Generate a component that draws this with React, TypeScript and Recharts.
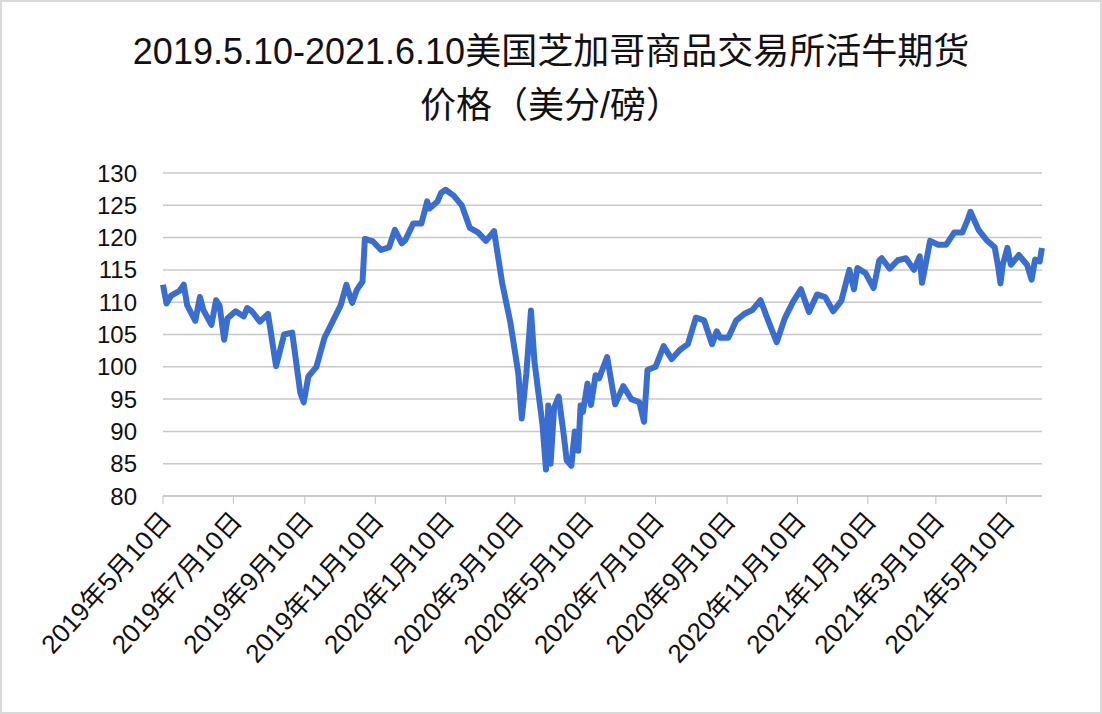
import React from 'react';
import { LineChart, Line, XAxis, YAxis, CartesianGrid } from 'recharts';

// CME live cattle futures, US cents per pound
const dates = [
  '2019-05-10', '2019-05-13', '2019-05-17', '2019-05-24', '2019-05-28', '2019-05-31', '2019-06-07', '2019-06-11',
  '2019-06-14', '2019-06-21', '2019-06-25', '2019-06-28', '2019-07-02', '2019-07-05', '2019-07-12', '2019-07-19',
  '2019-07-22', '2019-07-26', '2019-08-02', '2019-08-09', '2019-08-16', '2019-08-23', '2019-08-30', '2019-09-06',
  '2019-09-09', '2019-09-13', '2019-09-20', '2019-09-27', '2019-10-04', '2019-10-11', '2019-10-16', '2019-10-18',
  '2019-10-21', '2019-10-25', '2019-10-30', '2019-11-01', '2019-11-08', '2019-11-15', '2019-11-22', '2019-11-27',
  '2019-11-29', '2019-12-03', '2019-12-06', '2019-12-13', '2019-12-20', '2019-12-25', '2019-12-27',
  '2020-01-03', '2020-01-06', '2020-01-10', '2020-01-17', '2020-01-24', '2020-01-31', '2020-02-07', '2020-02-14',
  '2020-02-21', '2020-02-28', '2020-03-06', '2020-03-13', '2020-03-16', '2020-03-20', '2020-03-24', '2020-03-27',
  '2020-04-03', '2020-04-06', '2020-04-08', '2020-04-10', '2020-04-13', '2020-04-17', '2020-04-21', '2020-04-24',
  '2020-04-28', '2020-05-01', '2020-05-04', '2020-05-06', '2020-05-08', '2020-05-12', '2020-05-15', '2020-05-19',
  '2020-05-22', '2020-05-29', '2020-06-05', '2020-06-12', '2020-06-19', '2020-06-26', '2020-06-30', '2020-07-03',
  '2020-07-10', '2020-07-17', '2020-07-24', '2020-07-31', '2020-08-07', '2020-08-14', '2020-08-21', '2020-08-28',
  '2020-09-01', '2020-09-04', '2020-09-11', '2020-09-18', '2020-09-25', '2020-10-02', '2020-10-09', '2020-10-16',
  '2020-10-23', '2020-10-30', '2020-11-06', '2020-11-13', '2020-11-20', '2020-11-27', '2020-12-04', '2020-12-11',
  '2020-12-18', '2020-12-25', '2020-12-29',
  '2021-01-01', '2021-01-08', '2021-01-15', '2021-01-20', '2021-01-22', '2021-01-29', '2021-02-05', '2021-02-12',
  '2021-02-19', '2021-02-24', '2021-02-26', '2021-03-05', '2021-03-12', '2021-03-19', '2021-03-26', '2021-04-02',
  '2021-04-06', '2021-04-09', '2021-04-16', '2021-04-23', '2021-04-30', '2021-05-03', '2021-05-05', '2021-05-07',
  '2021-05-11', '2021-05-14', '2021-05-21', '2021-05-28', '2021-06-01', '2021-06-04', '2021-06-08', '2021-06-10',
];

const prices = [
  112.7, 109.8, 111.0, 111.7, 112.7, 109.5, 107.1, 110.8,
  108.8, 106.5, 110.3, 109.5, 104.2, 107.5, 108.6, 107.8,
  109.1, 108.6, 107.0, 108.2, 100.1, 105.0, 105.3, 96.0,
  94.5, 98.5, 100.0, 104.5, 107.0, 109.5, 112.7, 111.5,
  109.9, 111.9, 113.2, 119.8, 119.4, 118.1, 118.5, 121.2,
  120.5, 119.1, 119.6, 122.2, 122.2, 125.6, 124.5,
  125.6, 126.9, 127.4, 126.5, 125.0, 121.5, 120.8, 119.5,
  121.0, 113.0, 107.0, 99.0, 92.0, 99.0, 108.7, 100.8,
  91.0, 84.1, 94.0, 85.0, 93.6, 95.4, 90.0, 85.5,
  84.7, 90.0, 87.0, 94.0, 93.0, 97.4, 94.1, 98.7,
  98.2, 101.5, 94.2, 97.0, 95.0, 94.5, 91.5, 99.5,
  100.0, 103.2, 101.2, 102.6, 103.5, 107.6, 107.2, 103.5,
  105.5, 104.5, 104.5, 107.2, 108.2, 108.8, 110.3, 107.0,
  103.8, 107.5, 110.0, 112.0, 108.5, 111.2, 110.8, 108.6,
  110.2, 115.0, 112.0,
  115.3, 114.5, 112.2, 116.5, 116.8, 115.2, 116.5, 116.8,
  115.0, 117.1, 113.0, 119.5, 118.9, 118.9, 120.8, 120.8,
  122.5, 124.0, 121.2, 119.6, 118.5, 115.5, 112.9, 115.8,
  118.4, 115.8, 117.3, 115.8, 113.5, 116.6, 116.3, 118.4,
];

const tickDates = [
  '2019-05-10', '2019-07-10', '2019-09-10', '2019-11-10', '2020-01-10', '2020-03-10', '2020-05-10',
  '2020-07-10', '2020-09-10', '2020-11-10', '2021-01-10', '2021-03-10', '2021-05-10',
];
const yTicks = [80, 85, 90, 95, 100, 105, 110, 115, 120, 125, 130];

const toTs = (s: string) => {
  const [y, m, d] = s.split('-').map(Number);
  return Date.UTC(y, m - 1, d);
};

const chartData = dates.map((d, i) => ({ t: toTs(d), price: prices[i] }));

const FONT = '"Liberation Sans", "Noto Sans CJK SC", sans-serif';

const DateTick = ({ x, y, payload }: any) => {
  const d = new Date(payload.value);
  const label = `${d.getUTCFullYear()}年${d.getUTCMonth() + 1}月${d.getUTCDate()}日`;
  const ax = x + 10;
  const ay = y + 16;
  return (
    <text
      x={ax}
      y={ay}
      transform={`rotate(-48, ${ax}, ${ay})`}
      textAnchor="end"
      fontSize={26}
      fontFamily={FONT}
      fill="#111"
    >
      {label}
    </text>
  );
};

const App: React.FC = () => {
  return (
    <div
      style={{
        position: 'fixed',
        left: 0,
        top: 0,
        width: 1102,
        height: 714,
        background: '#fff',
        boxSizing: 'border-box',
        border: '2px solid #d9d9d9',
        fontFamily: FONT,
      }}
    >
      <div style={{ position: 'absolute', left: -2, top: 28, width: 1102, textAlign: 'center', fontSize: 36, lineHeight: '44px', color: '#111' }}>
        2019.5.10-2021.6.10美国芝加哥商品交易所活牛期货
      </div>
      <div style={{ position: 'absolute', left: -2, top: 82, width: 1102, textAlign: 'center', fontSize: 36, lineHeight: '44px', color: '#111' }}>
        价格（美分/磅）
      </div>
      <div style={{ position: 'absolute', left: -2, top: -2 }}>
        <LineChart
          width={1102}
          height={714}
          data={chartData}
          margin={{ top: 173, right: 60, bottom: 188, left: 103 }}
        >
          <CartesianGrid vertical={false} stroke="#c8c8c8" strokeWidth={1.5} />
          <XAxis
            dataKey="t"
            type="number"
            domain={[toTs('2019-05-10'), toTs('2021-06-10')]}
            ticks={tickDates.map(toTs)}
            interval={0}
            height={30}
            stroke="#bdbdbd"
            tickSize={8}
            tick={<DateTick />}
          />
          <YAxis
            domain={[80, 130]}
            ticks={yTicks}
            width={60}
            axisLine={false}
            tickLine={false}
            tickSize={6}
            tickMargin={20}
            tick={{ fontSize: 24, fontFamily: FONT, fill: '#111' }}
          />
          <Line
            type="linear"
            dataKey="price"
            stroke="#3A6DD0"
            strokeWidth={6}
            strokeLinejoin="round"
            dot={false}
            isAnimationActive={false}
          />
        </LineChart>
      </div>
    </div>
  );
};

export default App;
